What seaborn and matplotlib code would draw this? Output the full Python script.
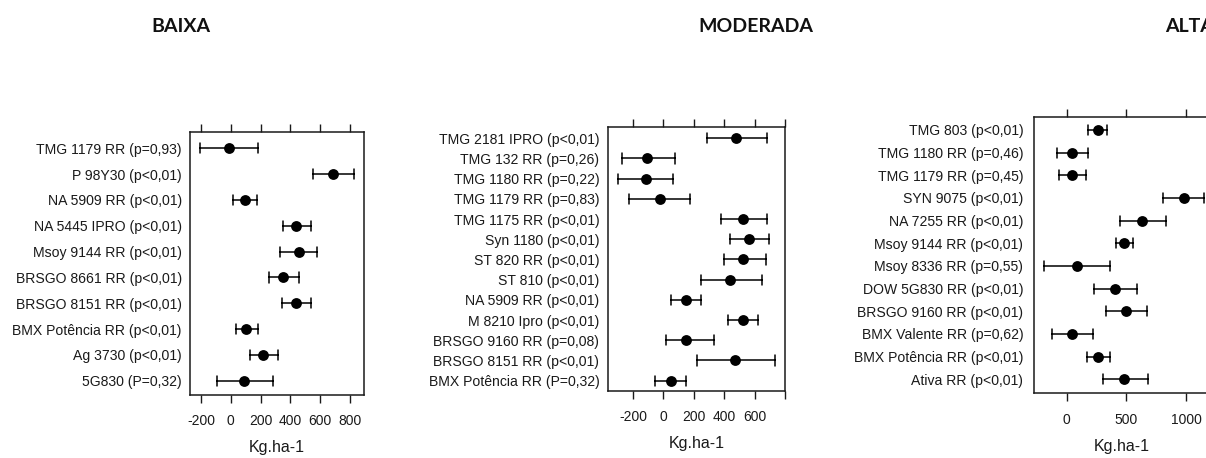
import matplotlib
matplotlib.use("Agg")
import matplotlib.pyplot as plt
import pandas as pd
import seaborn as sns

# Yield response (kg/ha) per cultivar with confidence interval, by pressure level
baixa_names = ["TMG 1179 RR (p=0,93)", "P 98Y30 (p<0,01)", "NA 5909 RR (p<0,01)",
               "NA 5445 IPRO (p<0,01)", "Msoy 9144 RR (p<0,01)", "BRSGO 8661 RR (p<0,01)",
               "BRSGO 8151 RR (p<0,01)", "BMX Potência RR (p<0,01)", "Ag 3730 (p<0,01)",
               "5G830 (P=0,32)"]
baixa_mean = [-10, 684, 96, 436, 458, 348, 438, 102, 219, 89]
baixa_low = [-205, 550, 17, 348, 331, 255, 342, 35, 131, -94]
baixa_high = [185, 827, 174, 536, 581, 458, 536, 181, 317, 281]

moderada_names = ["TMG 2181 IPRO (p<0,01)", "TMG 132 RR (p=0,26)", "TMG 1180 RR (p=0,22)",
                  "TMG 1179 RR (p=0,83)", "TMG 1175 RR (p<0,01)", "Syn 1180 (p<0,01)",
                  "ST 820 RR (p<0,01)", "ST 810 (p<0,01)", "NA 5909 RR (p<0,01)",
                  "M 8210 Ipro (p<0,01)", "BRSGO 9160 RR (p=0,08)", "BRSGO 8151 RR (p<0,01)",
                  "BMX Potência RR (P=0,32)"]
moderada_mean = [479, -110, -114, -24, 523, 560, 527, 440, 149, 523, 147, 473, 48]
moderada_low = [290, -270, -295, -226, 380, 440, 396, 246, 48, 422, 18, 220, -53]
moderada_high = [681, 75, 66, 178, 681, 695, 673, 648, 248, 624, 332, 734, 149]

alta_names = ["TMG 803 (p<0,01)", "TMG 1180 RR (p=0,46)", "TMG 1179 RR (p=0,45)",
              "SYN 9075 (p<0,01)", "NA 7255 RR (p<0,01)", "Msoy 9144 RR (p<0,01)",
              "Msoy 8336 RR (p=0,55)", "DOW 5G830 RR (p<0,01)", "BRSGO 9160 RR (p<0,01)",
              "BMX Valente RR (p=0,62)", "BMX Potência RR (p<0,01)", "Ativa RR (p<0,01)"]
alta_mean = [260, 45, 45, 978, 634, 480, 84, 405, 497, 45, 265, 480]
alta_low = [182, -81, -67, 810, 447, 413, -187, 226, 330, -126, 173, 302]
alta_high = [341, 182, 162, 1150, 832, 559, 363, 592, 670, 218, 363, 679]

baixa_ticks = [-200, 0, 200, 400, 600, 800]
moderada_ticks = [-200, 0, 200, 400, 600, 800]
alta_ticks = [0, 500, 1000]

W, H = 1206, 458
sns.set_theme(style="white")
plt.rcParams["font.family"] = ["Liberation Sans", "DejaVu Sans"]
INK = "#1a1a1a"

fig = plt.figure(figsize=(W / 100, H / 100), dpi=100)


def long_table(names, mean, low, high):
    # three rows per cultivar: the median gives the estimate, the full range the interval
    rows = []
    for n, m, lo, hi in zip(names, mean, low, high):
        for v in (lo, m, hi):
            rows.append((n, v))
    return pd.DataFrame(rows, columns=["cultivar", "ganho"])


def panel(box, names, mean, low, high, xlim, ylim, ticks, labels, capsize, ypad):
    l, t, r, b = box
    ax = fig.add_axes([l / W, 1 - b / H, (r - l) / W, (b - t) / H])
    df = long_table(names, mean, low, high)
    sns.pointplot(data=df, x="ganho", y="cultivar", order=names,
                  estimator="median", errorbar=("pi", 100),
                  color="black", markers="o", linestyle="none",
                  capsize=capsize, err_kws={"linewidth": 1.1},
                  markersize=7.8, markeredgewidth=0, ax=ax)
    ax.set_xlim(*xlim)
    ax.set_ylim(*ylim)
    ax.set_xticks(ticks, labels)
    ax.tick_params(axis="x", which="both", top=True, bottom=True, direction="out",
                   length=5.5, width=1.0, color=INK, labeltop=False,
                   labelsize=10, labelcolor=INK, pad=8.5)
    ax.tick_params(axis="y", left=False, length=0, labelsize=10.1, labelcolor=INK, pad=ypad)
    for s in ax.spines.values():
        s.set_visible(True)
        s.set_color(INK)
        s.set_linewidth(1.1)
    ax.grid(False)
    ax.set_ylabel("")
    ax.set_xlabel("Kg.ha-1", fontsize=11.5, color=INK, labelpad=8.5)
    return ax


panel((190, 131.7, 364, 395), baixa_names, baixa_mean, baixa_low, baixa_high,
      (-274, 894), (9.55, -0.643), baixa_ticks, [str(v) for v in baixa_ticks], 0.39, 6)
panel((608.3, 126.7, 785, 391), moderada_names, moderada_mean, moderada_low, moderada_high,
      (-362, 800), (12.51, -0.574), moderada_ticks,
      [str(v) for v in moderada_ticks[:-1]] + [""], 0.5, 6.5)
panel((1034.3, 117.3, 1210, 393.3), alta_names, alta_mean, alta_low, alta_high,
      (-272, 1200), (11.62, -0.56), alta_ticks, [str(v) for v in alta_ticks], 0.44, 8)

title_kw = dict(fontsize=14, fontweight="bold", family=["Lato", "DejaVu Sans"],
                color="#111111", va="center")
fig.text(181 / W, 1 - 26 / H, "BAIXA", ha="center", **title_kw)
fig.text(756 / W, 1 - 26 / H, "MODERADA", ha="center", **title_kw)
fig.text(1165 / W, 1 - 26 / H, "ALTA", ha="left", **title_kw)

fig.savefig("out.png", dpi=100)
